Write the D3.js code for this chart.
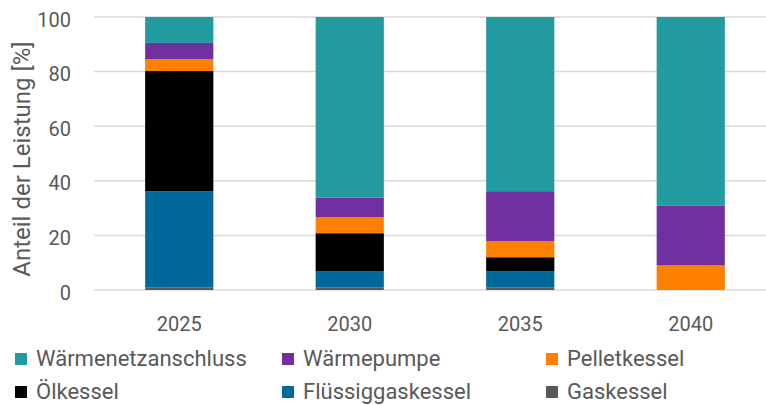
<!DOCTYPE html>
<html>
<head>
<meta charset="utf-8">
<script src="https://cdn.jsdelivr.net/npm/d3@7"></script>
<style>
  html, body { margin: 0; padding: 0; background: #fff; }
  svg { display: block; }
  text { font-family: Roboto, "Noto Sans", sans-serif; fill: #595959; }
</style>
</head>
<body>
<svg id="chart" width="766" height="405"></svg>
<script>
// Jahre der Szenarien
const years = ["2025", "2030", "2035", "2040"];

// Anteile der Leistung je Wärmeerzeuger [%], gestapelt von unten nach oben
const gaskessel         = [1.0, 1.0, 1.0, 0.0];
const fluessiggaskessel = [35.2, 5.8, 5.8, 0.0];
const oelkessel         = [44.0, 14.0, 5.2, 0.0];
const pelletkessel      = [4.4, 5.8, 5.9, 9.0];
const waermepumpe       = [5.9, 7.3, 18.3, 22.0];
const waermenetz        = [9.5, 66.1, 63.8, 69.0];

const yTicks = [0, 20, 40, 60, 80, 100];

const series = [
  { name: "Gaskessel",          values: gaskessel,         color: "#595959" },
  { name: "Flüssiggaskessel",   values: fluessiggaskessel, color: "#00699a" },
  { name: "Ölkessel",           values: oelkessel,         color: "#000000" },
  { name: "Pelletkessel",       values: pelletkessel,      color: "#ff8000" },
  { name: "Wärmepumpe",         values: waermepumpe,       color: "#7030a0" },
  { name: "Wärmenetzanschluss", values: waermenetz,        color: "#219ba0" }
];

// Reihenfolge der Legende (zeilenweise)
const legendOrder = ["Wärmenetzanschluss", "Wärmepumpe", "Pelletkessel",
                     "Ölkessel", "Flüssiggaskessel", "Gaskessel"];

const svg = d3.select("#chart");

const x = d3.scaleBand()
  .domain(years)
  .range([94, 776])
  .paddingInner(0.6)
  .paddingOuter(0.3);

const y = d3.scaleLinear()
  .domain([0, 100])
  .range([290, 17]);

// Gitterlinien
svg.append("g")
  .selectAll("line")
  .data(yTicks)
  .join("line")
  .attr("x1", 94)
  .attr("x2", 766)
  .attr("y1", d => y(d))
  .attr("y2", d => y(d))
  .attr("stroke", "#d9d9d9")
  .attr("stroke-width", 1.5);

// y-Achse
const yAxis = svg.append("g")
  .attr("transform", "translate(71,0)")
  .call(d3.axisLeft(y).tickValues(yTicks).tickSize(0).tickPadding(0));
yAxis.select(".domain").remove();
yAxis.selectAll("text")
  .attr("font-size", 20)
  .attr("dy", "0.45em")
  .style("font-family", "Roboto, sans-serif")
  .attr("fill", "#595959");

// x-Achse
const xAxis = svg.append("g")
  .attr("transform", "translate(0,290)")
  .call(d3.axisBottom(x).tickSize(0).tickPadding(0));
xAxis.select(".domain").remove();
xAxis.selectAll("text")
  .attr("font-size", 20)
  .attr("y", 41)
  .attr("dy", 0)
  .style("font-family", "Roboto, sans-serif")
  .attr("fill", "#595959");

// Gestapelte Säulen
const table = years.map((yr, i) => {
  const row = { year: yr };
  series.forEach(s => { row[s.name] = s.values[i]; });
  return row;
});
const stack = d3.stack().keys(series.map(s => s.name));
const stacked = stack(table);
const colorOf = Object.fromEntries(series.map(s => [s.name, s.color]));

svg.append("g")
  .selectAll("g")
  .data(stacked)
  .join("g")
  .attr("fill", d => colorOf[d.key])
  .selectAll("rect")
  .data(d => d)
  .join("rect")
  .attr("x", d => x(d.data.year))
  .attr("width", x.bandwidth())
  .attr("y", d => y(d[1]))
  .attr("height", d => y(d[0]) - y(d[1]));

// Achsentitel
svg.append("text")
  .attr("transform", "translate(30,159) rotate(-90)")
  .attr("text-anchor", "middle")
  .attr("font-size", 24)
  .text("Anteil der Leistung [%]");

// Legende
const legendCols = [15, 282, 546];
const legendRows = [366, 399];
const legend = svg.append("g")
  .selectAll("g")
  .data(legendOrder)
  .join("g")
  .attr("transform", (d, i) => `translate(${legendCols[i % 3]},${legendRows[Math.floor(i / 3)]})`);
legend.append("rect")
  .attr("x", 0)
  .attr("y", -13)
  .attr("width", 12)
  .attr("height", 12)
  .attr("fill", d => colorOf[d]);
legend.append("text")
  .attr("x", 21)
  .attr("y", 0)
  .attr("font-size", 22)
  .text(d => d);
</script>
</body>
</html>
